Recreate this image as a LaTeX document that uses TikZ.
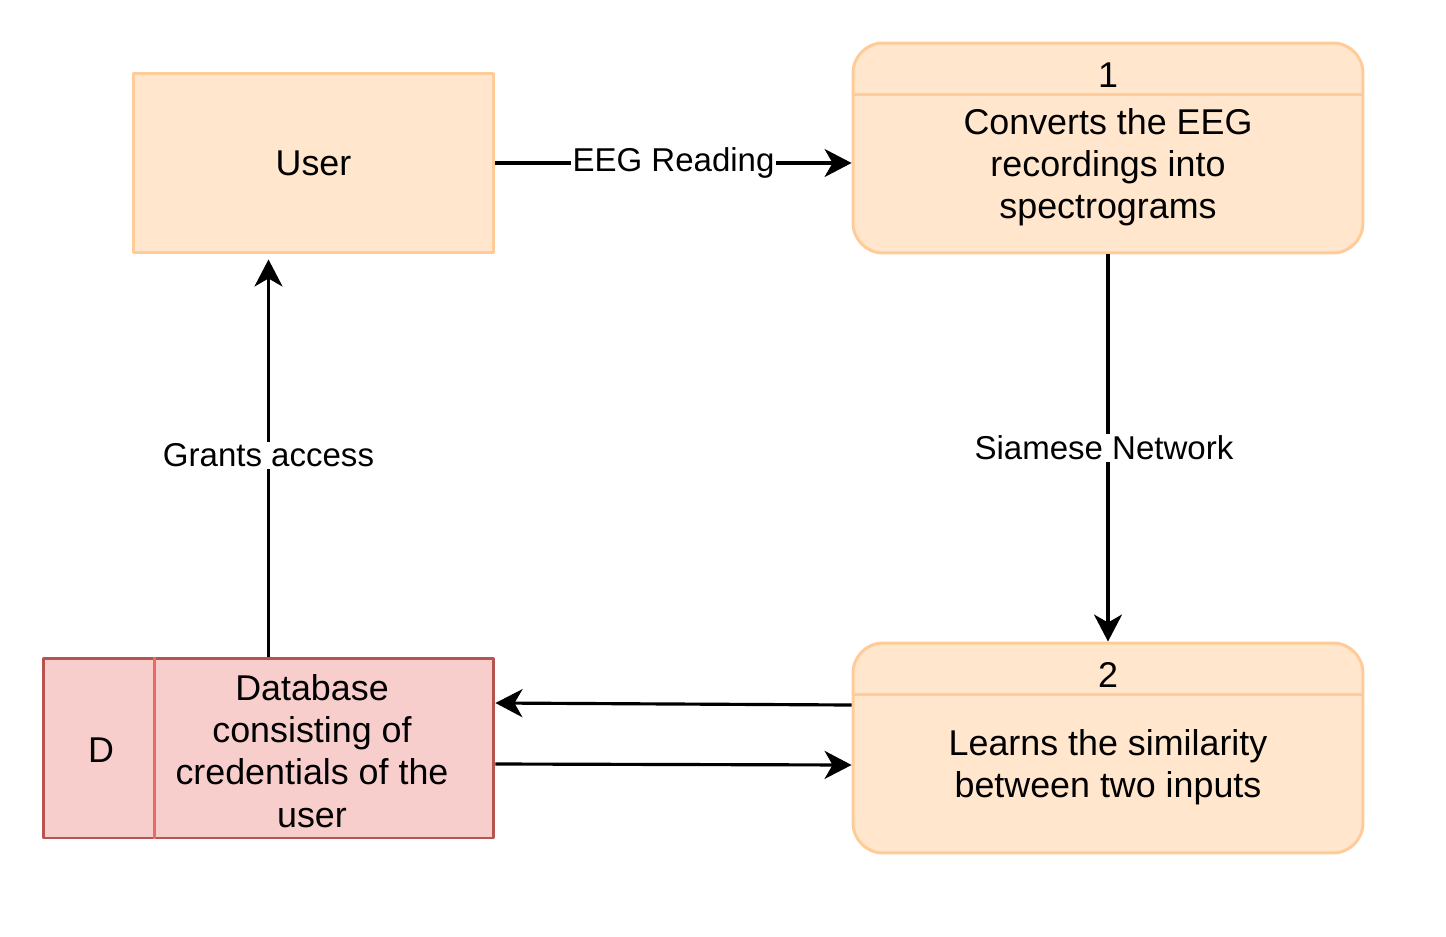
\documentclass[tikz,border=0pt]{standalone}
\usepackage{fontspec}
\setmainfont{Liberation Sans}
\usetikzlibrary{arrows.meta}
\definecolor{orfill}{HTML}{FFE6CC}
\definecolor{ordraw}{HTML}{FFCC99}
\definecolor{dbfill}{HTML}{F8CECC}
\definecolor{dbdraw}{HTML}{B85450}
\definecolor{dbline}{HTML}{EA6B66}
\begin{document}
\begin{tikzpicture}[x=0.02cm, y=-0.02cm, line join=round,
    >={Stealth[length=0.54cm, width=0.56cm, inset=0.16cm]},
    txt/.style={font=\fontsize{20.4pt}{24pt}\selectfont, align=center},
    lbl/.style={font=\fontsize{18.8pt}{22pt}\selectfont, fill=white, inner sep=1pt},
    ent/.style={draw=ordraw, fill=orfill, line width=1.7pt, minimum width=7.22cm, minimum height=3.6cm},
    proc/.style={draw=ordraw, fill=orfill, line width=1.7pt, rounded corners=0.6cm, minimum width=10.2cm, minimum height=4.2cm},
    store/.style={draw=dbdraw, fill=dbfill, line width=1.7pt, minimum width=9.02cm, minimum height=3.6cm},
    flow/.style={->, line width=1.8pt}]
    \useasboundingbox (0,0) rectangle (1446,936);
    % boxes
    \node[ent, txt] (user) at (313.5,163) {User};
    \node[proc] (p1) at (1108,148) {};
    \draw[ordraw, line width=1.7pt] ([yshift=-1.06cm]p1.north west) -- ([yshift=-1.06cm]p1.north east);
    \node[txt] (p1num) at (1108,75) {1};
    \node[txt] (p1txt) at (1108,167.5) {Converts the EEG\\recordings into\\spectrograms};
    \node[proc] (p2) at (1108,748) {};
    \draw[ordraw, line width=1.7pt] ([yshift=-1.06cm]p2.north west) -- ([yshift=-1.06cm]p2.north east);
    \node[txt] (p2num) at (1108,675) {2};
    \node[txt] (p2txt) at (1108,767) {Learns the similarity\\between two inputs};
    \node[store] (db) at (268.5,748) {};
    \draw[dbline, line width=1.7pt] ([xshift=2.26cm]db.north west) -- ([xshift=2.26cm]db.south west);
    \node[txt] (dbid) at (101,750) {D};
    \node[txt] (dbtxt) at (312,751) {Database\\consisting of\\credentials of the\\user};
    % flows
    \draw[flow] (user.east) -- node[lbl] (eeg) {EEG Reading} (user.east -| p1.west);
    \draw[flow] (p1.south) -- node[lbl, xshift=-0.08cm] (siam) {Siamese Network} (p2.north);
    \draw[flow, shorten >=0.1cm] (db.north) -- node[lbl] (grant) {Grants access} (db.north |- user.south);
    \draw[flow] ([yshift=0.86cm]p2.west) -- ([yshift=0.9cm]db.east);
    \draw[flow] ([yshift=-0.32cm]db.east) -- ([yshift=-0.34cm]p2.west);
\end{tikzpicture}
\end{document}
